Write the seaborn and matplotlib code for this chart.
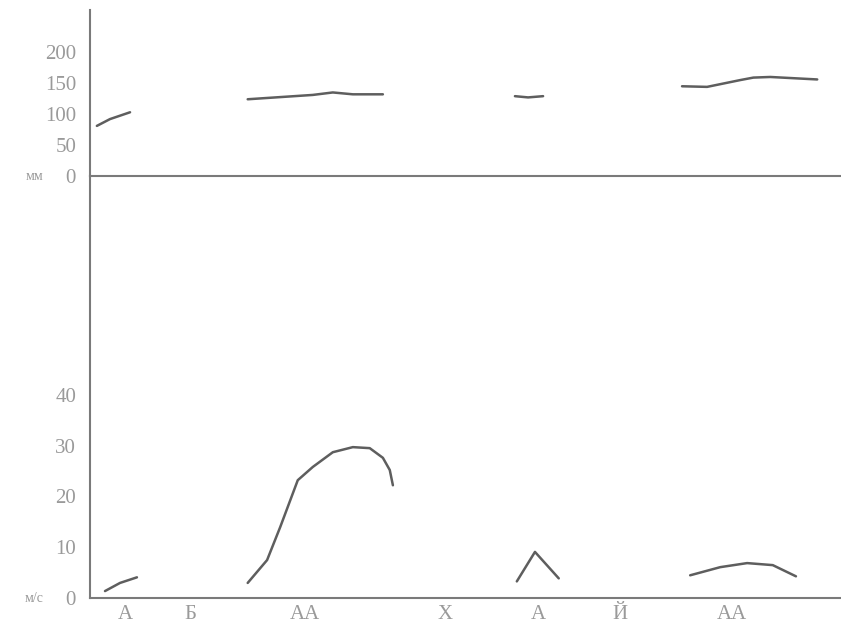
import numpy as np
import pandas as pd
import seaborn as sns
import matplotlib.pyplot as plt

# подписи по оси X и их положения
month_labels = ['А', 'Б', 'АА', 'Х', 'А', 'Й', 'АА']
month_pos = [0.56, 1.6, 3.43, 5.67, 7.16, 8.47, 10.26]

# осадки, мм (верхний график)
rain_seg = [1, 1, 1, 2, 2, 2, 2, 2, 3, 3, 3, 4, 4, 4, 4, 4, 4]
rain_x = [0.11, 0.32, 0.64, 2.52, 3.56, 3.88, 4.20, 4.68, 6.79, 7.0, 7.24,
          9.46, 9.86, 10.39, 10.6, 10.87, 11.62]
rain_mm = [81, 92, 103, 124, 131, 135, 132, 132, 129, 127, 129,
           145, 144, 155, 159, 160, 156]

# скорость ветра, м/с (нижний график)
wind_seg = [1, 1, 1,
            2, 2, 2, 2, 2, 2, 2, 2, 2, 2, 2,
            3, 3, 3,
            4, 4, 4, 4, 4]
wind_x = [0.24, 0.48, 0.75,
          2.52, 2.83, 3.04, 3.32, 3.56, 3.88, 4.20, 4.47, 4.68, 4.79, 4.84,
          6.82, 7.11, 7.49,
          9.59, 10.07, 10.5, 10.91, 11.28]
wind_ms = [1.4, 3.0, 4.1,
           3.0, 7.5, 14.0, 23.2, 25.8, 28.7, 29.7, 29.5, 27.6, 25.2, 22.2,
           3.3, 9.1, 3.9,
           4.5, 6.1, 6.9, 6.5, 4.3]

rain = pd.DataFrame({'seg': rain_seg, 'x': rain_x, 'y': rain_mm})
wind = pd.DataFrame({'seg': wind_seg, 'x': wind_x, 'y': wind_ms})

sns.set_style('white')
plt.rcParams['font.family'] = ['Liberation Serif', 'DejaVu Serif']

line_c = '#5e5e5e'
axis_c = '#7a7a7a'
text_c = '#9a9a9a'

fig = plt.figure(figsize=(8.41, 6.31), dpi=100)
ax1 = fig.add_axes([0.107, 0.721, 0.893, 0.263])
ax2 = fig.add_axes([0.107, 0.052, 0.893, 0.669])

sns.lineplot(data=rain, x='x', y='y', units='seg', estimator=None,
             color=line_c, linewidth=1.8, ax=ax1)
sns.lineplot(data=wind, x='x', y='y', units='seg', estimator=None,
             color=line_c, linewidth=1.8, ax=ax2)

for ax in (ax1, ax2):
    ax.set_xlim(0, 12)
    ax.set_xlabel('')
    ax.set_ylabel('')
    sns.despine(ax=ax, top=True, right=True)
    for s in ('left', 'bottom'):
        ax.spines[s].set_color(axis_c)
        ax.spines[s].set_linewidth(1.5)
    ax.tick_params(length=0, colors=text_c, labelsize=15, pad=10)
    ax.patch.set_alpha(0)

ax1.set_ylim(0, 268)
ax1.set_yticks([0, 50, 100, 150, 200])
ax1.set_xticks([])

ax2.set_ylim(0, 83)
ax2.set_yticks([0, 10, 20, 30, 40])
ax2.set_xticks(month_pos)
ax2.set_xticklabels(month_labels)
ax2.tick_params(axis='x', pad=5)

ax1.text(-0.062, 0, 'мм', transform=ax1.get_yaxis_transform(), color=text_c,
         fontsize=10, ha='right', va='center')
ax2.text(-0.062, 0, 'м/с', transform=ax2.get_yaxis_transform(), color=text_c,
         fontsize=10, ha='right', va='center')

fig.savefig('out.png', dpi=100)
